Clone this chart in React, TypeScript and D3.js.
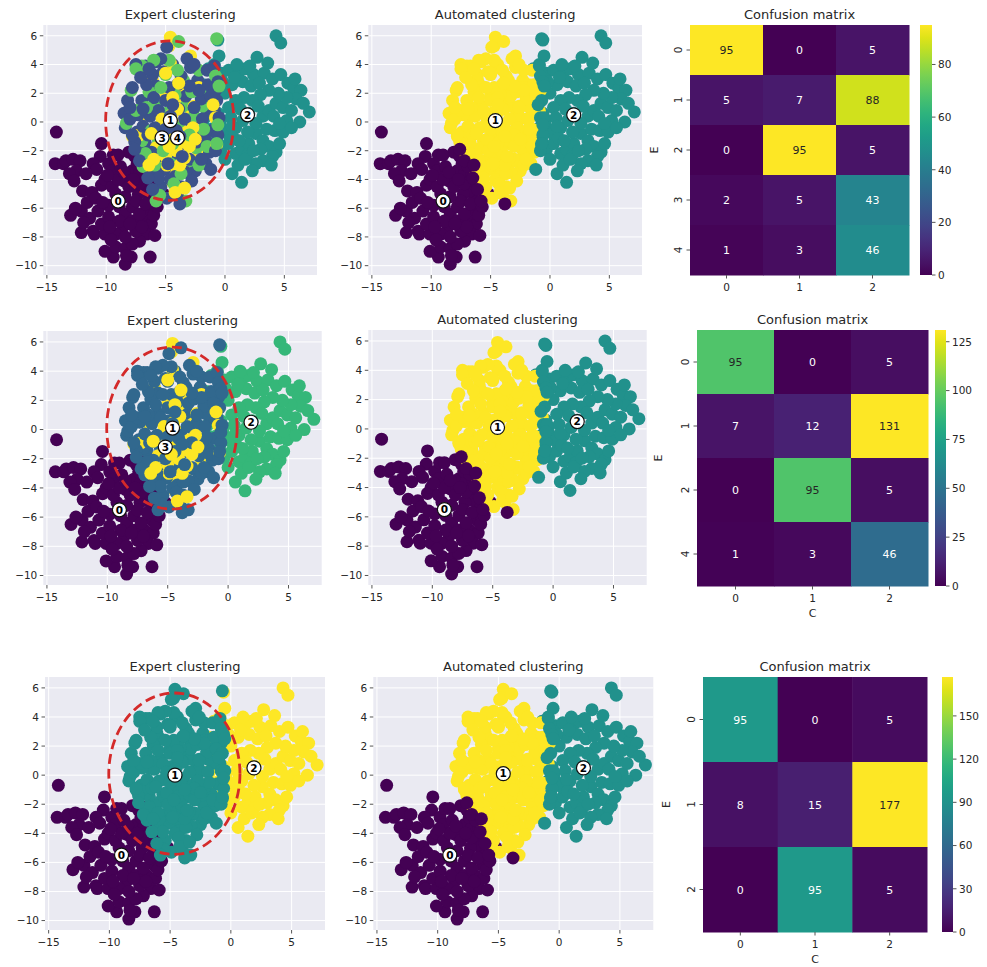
import React from 'react';
import * as d3 from 'd3';

// [x, y, automatedCluster]
type P = [number, number, number];

// Expert group 0 (lower-left)
const expert0: P[] = [
[-14.2,-0.7,0],[-14.3,-2.9,0],[-13.6,-2.9,0],[-13.4,-2.7,0],[-12.8,-2.6,0],[-12.2,-2.7,0],[-12.5,-3.4,0],[-13.1,-3.6,0],[-12.7,-4.1,0],[-12.0,-4.8,0],
[-11.2,-4.9,0],[-10.4,-4.4,0],[-10.1,-4.0,0],[-13.0,-6.5,0],[-12.1,-6.2,0],[-11.4,-6.7,0],[-12.1,-7.7,0],[-11.1,-7.6,0],[-10.4,-1.5,0],[-10.5,-2.4,0],
[-11.1,-2.9,0],[-9.8,-2.9,0],[-9.4,-2.3,0],[-9.5,-3.4,0],[-8.8,-3.1,0],[-8.5,-4.1,0],[-8.1,-2.1,0],[-7.6,-2.4,0],[-7.8,-3.4,0],[-7.2,-3.6,0],
[-6.8,-4.2,0],[-6.1,-4.4,0],[-5.5,-4.8,0],[-5.2,-5.0,0],[-6.6,-4.9,0],[-7.3,-5.0,0],[-6.1,-5.5,0],[-6.3,-6.2,0],[-6.9,-6.9,0],[-6.2,-7.1,0],
[-6.6,-7.8,0],[-7.2,-8.3,0],[-5.9,-7.9,0],[-6.3,-9.4,0],[-7.9,-9.4,0],[-8.4,-9.9,0],[-9.4,-9.4,0],[-10.1,-9.0,0],[-9.2,-8.7,0],[-8.4,-8.8,0],
[-7.8,-8.5,0],[-11.0,-7.8,0],[-10.1,-7.8,0],[-10.4,-7.1,0],[-9.8,-6.6,0],[-10.7,-6.2,0],[-9.8,-5.8,0],[-8.9,-5.9,0],[-8.4,-6.4,0],[-7.8,-5.9,0],
[-7.5,-5.5,0],[-8.4,-5.2,0],[-9.2,-5.0,0],[-9.5,-4.5,0],[-8.1,-4.5,0],[-7.2,-4.3,0],[-7.8,-6.9,0],[-8.6,-7.3,0],[-9.2,-7.8,0],[-8.4,-8.0,0],
[-7.5,-7.6,0],[-11.6,-5.6,0],[-10.9,-5.3,0],[-9.0,-4.0,0],[-9.9,-3.7,0],[-10.8,-3.3,0],[-11.7,-3.6,0],[-8.9,-6.9,0],[-7.2,-6.4,0],[-6.7,-5.7,0],
[-7.0,-7.3,0],[-9.6,-8.2,0],[-8.0,-7.1,0],[-10.3,-5.6,0],[-11.9,-7.0,0],[-12.6,-6.0,0],[-9.0,-2.3,0],[-8.5,-3.5,0],[-7.4,-2.9,0],[-6.6,-3.6,0],
[-8.3,-9.3,0],[-9.7,-7.3,0],[-7.7,-4.0,0],[-6.0,-6.5,0],[-5.7,-5.9,0],
[-7.1,-2.2,2],[-6.7,-2.8,2],[-6.3,-3.3,2],[-5.9,-3.9,2],[-5.6,-4.4,2]
];

// Expert group 1 (centre, widest)
const expert1: P[] = [
[-5.8,4.2,2],[-6.7,3.9,2],[-7.5,4.0,2],[-8.2,1.5,2],[-8.5,0.6,2],[-8.4,-0.4,2],[-7.4,-0.7,2],[-4.4,4.0,2],[-3.7,3.2,2],[-2.3,2.9,2],
[-1.5,3.6,2],[-0.8,2.2,2],[-0.9,0.8,2],[-1.5,0.8,2],[-1.1,-0.6,2],[-1.6,-1.3,2],[-2.2,-2.0,2],[-1.6,-2.9,2],[-2.5,-3.4,2],[-3.7,-4.5,2],
[-5.4,-4.5,2],[-4.9,-5.3,2],[-5.8,-2.7,2],[-6.7,-1.5,2],[-6.3,0.4,2],[-7.0,1.5,2],[-5.8,2.5,2],[-5.0,1.5,2],[-3.3,1.8,2],[-2.8,-0.1,2],
[-3.5,-1.5,2],[-4.4,-2.2,2],[-6.1,3.3,2],[-5.2,3.5,2],[-4.0,2.6,2],[-2.9,3.8,2],[-2.0,1.6,2],[-7.8,2.4,2],[-7.3,0.5,2],[-6.9,-0.3,2],
[-7.6,-1.4,2],[-6.2,-2.1,2],[-5.1,-3.3,2],[-4.2,-3.8,2],[-3.0,-2.6,2],[-2.1,-0.8,2],[-1.9,0.2,2],[-2.6,1.0,2],[-3.9,0.9,2],[-5.6,0.8,2],
[-6.0,1.7,2],[-4.7,2.4,2],[-3.2,4.4,2],[-4.9,5.2,2],[-1.4,2.6,2],[-2.4,-1.4,2],[-3.3,-3.5,2],[-4.6,-4.0,2],[-6.0,-3.6,2],[-7.0,-2.3,2],
[-8.0,0.2,2],[-7.8,-0.9,2],[-6.6,2.6,2],[-5.3,-1.2,2],[-4.1,-0.6,2],[-3.4,0.2,2],[-2.2,2.2,2],[-1.2,1.8,2],[-1.3,-2.1,2],[-2.8,-4.1,2],
[-4.0,-5.0,2],[-5.6,-3.9,2],[-6.5,-0.9,2],[-7.1,3.1,2],[-4.4,1.2,2],[-3.0,2.5,2],[-5.9,-0.4,2],[-4.8,-2.9,2],[-3.6,-2.4,2],[-2.6,4.0,2],
[-6.9,0.9,2],[-5.4,4.4,2],[-8.0,1.0,2],[-3.8,-1.0,2],[-4.6,0.4,2],[-2.0,-2.6,2],[-5.0,-0.5,2],[-6.4,3.7,2],
[-3.8,-5.7,0],[-7.6,-1.9,0],[-7.2,-2.7,0],[-6.5,-3.9,0],[-6.1,-4.7,0],
[-0.9,3.9,1],[-0.6,2.8,1],[-0.7,1.5,1],[-0.5,0.3,1],[-0.6,-0.9,1],[-0.8,-2.0,1],[-1.2,-3.3,1]
];

// Expert group 2 (right)
const expert2: P[] = [
[-0.6,5.7,1],[4.3,6.0,1],[4.7,5.5,1],[2.7,4.5,1],[-1.4,3.7,1],[-0.9,4.0,1],[-0.3,3.4,1],[0.3,3.6,1],[1.2,3.5,1],[1.7,3.7,1],
[2.4,3.3,1],[3.3,3.4,1],[4.0,3.0,1],[4.7,3.3,1],[5.3,2.7,1],[5.8,2.3,1],[6.4,2.2,1],[6.0,1.6,1],[7.1,0.7,1],[6.3,0.0,1],
[-1.2,2.3,1],[-1.0,1.5,1],[-0.6,0.6,1],[-0.9,-0.4,1],[-0.7,-1.3,1],[-0.3,-1.9,1],[0.3,-1.5,1],[0.9,-2.2,1],[1.4,-1.9,1],[2.0,-1.5,1],
[2.6,-0.8,1],[3.2,-1.3,1],[3.7,-1.7,1],[4.3,-2.1,1],[4.6,-1.5,1],[4.0,-2.4,1],[3.2,-2.7,1],[2.6,-2.9,1],[1.9,-2.3,1],[0.6,-3.6,1],
[1.4,-4.2,1],[0.9,-0.4,1],[1.5,0.1,1],[2.0,0.6,1],[3.2,0.4,1],[3.7,0.8,1],[4.3,1.3,1],[4.9,1.0,1],[5.2,1.7,1],[4.5,2.0,1],
[3.7,2.2,1],[3.0,1.9,1],[2.3,1.5,1],[1.6,1.7,1],[0.9,1.5,1],[0.3,1.0,1],[0.0,2.0,1],[0.6,2.6,1],[1.5,2.8,1],[2.2,2.5,1],
[2.9,2.7,1],[-0.3,-0.4,1],[0.2,-0.8,1],[0.7,-1.1,1],[2.6,-0.1,1],[3.5,-0.5,1],[4.2,-0.6,1],[4.9,-0.7,1],[5.2,0.1,1],[5.6,-0.4,1],
[1.9,-0.7,1],[1.2,-1.3,1],[-0.2,2.8,1],[1.0,4.0,1],[3.6,4.1,1],[2.1,3.9,1],[5.9,3.0,1],[6.6,1.3,1],[5.6,0.8,1],[3.9,-3.0,1],
[2.3,-3.4,1],[1.1,-3.0,1],[0.0,-2.6,1],[-0.4,0.1,1],[0.5,0.3,1],[1.3,0.9,1],[2.8,1.1,1],[4.1,0.4,1],[3.0,-1.9,1],[1.7,-2.6,1],
[-0.5,4.6,1],[0.8,3.1,1],[4.6,-0.1,1],[2.4,-2.0,1],[0.6,-0.3,1],
[-1.6,1.2,2],[-1.5,-0.5,2],[-1.8,2.6,2],[-1.3,-1.8,2],[-1.7,0.3,2]
];

// Expert group 3 (centre, medium spread)
const expert3: P[] = [
[-7.0,3.9,2],[-7.5,3.7,2],[-3.9,5.6,2],[-3.5,2.9,2],[-2.2,3.6,2],[-8.3,-0.1,2],[-7.9,2.2,2],[-5.8,1.1,2],[-4.9,0.6,2],[-3.3,1.1,2],
[-1.9,1.1,2],[-1.6,1.8,2],[-5.6,-1.3,2],[-7.0,-1.3,2],[-3.9,-2.5,2],[-3.0,-2.7,2],[-4.6,-2.9,2],[-3.3,-5.5,2],[-5.5,-5.1,2],[-6.4,2.1,2],
[-5.0,3.3,2],[-4.2,1.9,2],[-2.6,0.4,2],[-3.9,-0.4,2],[-6.2,-0.6,2],[-5.2,-2.0,2],[-2.4,-1.8,2],[-1.8,-0.5,2],[-4.7,4.3,2],[-6.6,1.0,2],
[-2.8,2.1,2],[-4.4,-1.5,2],[-5.9,-3.0,2],[-3.7,-3.6,2],[-2.2,-3.0,2],[-7.5,0.8,2],[-6.7,-2.2,2],[-4.0,3.6,2],[-5.4,2.4,2],[-3.0,-0.9,2],
[-4.3,-4.3,2],[-1.5,-1.7,2],[-6.0,4.3,2],
[-6.9,-3.1,0],[-5.8,-5.5,0],
[-0.7,5.8,1],[-0.8,3.2,1],[-0.5,2.5,1],[-0.6,-0.2,1],[-0.7,-1.5,1]
];

// Expert group 4 (centre, tight)
const expert4: P[] = [
[-4.6,5.9,2],[-4.7,5.3,2],[-2.9,4.6,2],[-4.6,4.1,2],[-6.1,2.9,2],[-2.2,2.4,2],[-3.3,2.2,2],[-5.0,1.8,2],[-3.7,1.5,2],[-2.6,1.1,2],
[-6.7,0.5,2],[-2.9,0.4,2],[-7.8,-1.0,2],[-7.2,-0.9,2],[-5.8,-1.8,2],[-5.0,-2.4,2],[-2.2,-2.2,2],[-5.6,-3.2,2],[-4.2,-3.6,2],[-3.5,-3.4,2],
[-4.4,-4.2,2],[-4.3,-1.0,2],[-3.9,-0.2,2],[-4.8,-0.6,2],[-3.6,-1.4,2],[-4.1,-2.0,2],[-5.2,-1.2,2],[-3.2,-0.7,2],[-4.5,0.5,2],[-5.3,0.2,2],
[-3.4,-2.5,2],[-4.9,-3.0,2],[-4.0,0.9,2],[-3.0,-1.7,2],[-5.5,-0.3,2],[-4.4,1.7,2],[-3.8,-3.0,2],[-4.7,-1.7,2],[-2.7,-0.4,2],[-6.2,-0.8,2],
[-3.9,2.7,2],[-5.0,3.4,2],[-4.2,-4.9,2],[-3.4,-4.6,2],[-2.5,-1.2,2],[-6.0,-2.6,2],
[-6.4,-3.0,0],
[-0.8,0.3,1],[-0.7,-1.6,1],[-1.0,1.2,1]
];

// expert label -> displayed label per row
const row1Map = [0, 1, 2, 3, 4];
const row2Map = [0, 1, 2, 1, 3];
const row3Map = [0, 1, 2, 1, 1];

type C = { label: string; x: number; y: number };
const expertCenters1: C[] = [
  { label: '0', x: -9.0, y: -5.5 }, { label: '1', x: -4.6, y: 0.1 }, { label: '2', x: 1.9, y: 0.5 },
  { label: '3', x: -5.3, y: -1.1 }, { label: '4', x: -4.0, y: -1.1 },
];
const expertCenters2: C[] = [
  { label: '0', x: -9.0, y: -5.5 }, { label: '1', x: -4.6, y: 0.1 }, { label: '2', x: 1.9, y: 0.5 },
  { label: '3', x: -5.2, y: -1.2 },
];
const expertCenters3: C[] = [
  { label: '0', x: -9.0, y: -5.5 }, { label: '1', x: -4.6, y: 0.0 }, { label: '2', x: 1.9, y: 0.5 },
];
const autoCenters: C[] = [
  { label: '0', x: -9.0, y: -5.5 }, { label: '1', x: -4.6, y: 0.1 }, { label: '2', x: 2.0, y: 0.5 },
];

const xTicks = [-15, -10, -5, 0, 5];
const yTicks = [-10, -8, -6, -4, -2, 0, 2, 4, 6];

const conf1 = [[95, 0, 5], [5, 7, 88], [0, 95, 5], [2, 5, 43], [1, 3, 46]];
const conf1Rows = ['0', '1', '2', '3', '4'];
const conf2 = [[95, 0, 5], [7, 12, 131], [0, 95, 5], [1, 3, 46]];
const conf2Rows = ['0', '1', '2', '4'];
const conf3 = [[95, 0, 5], [8, 15, 177], [0, 95, 5]];
const conf3Rows = ['0', '1', '2'];
const confCols = ['0', '1', '2'];
const cbarTicks1 = [0, 20, 40, 60, 80];
const cbarTicks2 = [0, 25, 50, 75, 100, 125];
const cbarTicks3 = [0, 30, 60, 90, 120, 150];

const FONT = 'DejaVu Sans, sans-serif';
const TXT = '#262626';

// drawing order: group 0, group 2, then interleaved centre groups
function orderedPoints(): { p: P; e: number }[] {
  const out: { p: P; e: number }[] = [];
  expert0.forEach((p) => out.push({ p, e: 0 }));
  expert2.forEach((p) => out.push({ p, e: 2 }));
  for (let i = 0; i < expert1.length; i++) {
    out.push({ p: expert1[i], e: 1 });
    if (i % 2 === 1) {
      const j = (i - 1) / 2;
      if (expert3[j]) out.push({ p: expert3[j], e: 3 });
      if (expert4[j]) out.push({ p: expert4[j], e: 4 });
    }
  }
  return out;
}
const ALL = orderedPoints();

type Box = { left: number; right: number; top: number; bottom: number };

function Scatter({ box, title, colorOf, centers, ellipse, id }: {
  box: Box; title: string; colorOf: (d: { p: P; e: number }) => string; centers: C[]; ellipse: boolean; id: string;
}) {
  const x = d3.scaleLinear().domain([-15.3, 7.75]).range([box.left, box.right]);
  const y = d3.scaleLinear().domain([-10.65, 6.75]).range([box.bottom, box.top]);
  const ecx = -4.65, ecy = 0.1, erx = 5.4, ery = 5.55;
  return (
    <g>
      <defs>
        <clipPath id={id}>
          <rect x={box.left} y={box.top} width={box.right - box.left} height={box.bottom - box.top} />
        </clipPath>
      </defs>
      <rect x={box.left} y={box.top} width={box.right - box.left} height={box.bottom - box.top} fill="#eaeaf2" />
      {xTicks.map((t) => (
        <line key={'gx' + t} x1={x(t)} x2={x(t)} y1={box.top} y2={box.bottom} stroke="#fff" strokeWidth={1} />
      ))}
      {yTicks.map((t) => (
        <line key={'gy' + t} x1={box.left} x2={box.right} y1={y(t)} y2={y(t)} stroke="#fff" strokeWidth={1} />
      ))}
      <g clipPath={`url(#${id})`}>
        {ALL.map((d, i) => (
          <circle key={i} cx={x(d.p[0])} cy={y(d.p[1])} r={6.5} fill={colorOf(d)} />
        ))}
        {ellipse && (
          <ellipse cx={x(ecx)} cy={y(ecy)} rx={x(ecx + erx) - x(ecx)} ry={y(ecy) - y(ecy + ery)}
            fill="none" stroke="#d42a2a" strokeWidth={2.8} strokeDasharray="10,5" />
        )}
        {centers.map((c) => (
          <g key={c.label}>
            <circle cx={x(c.x)} cy={y(c.y)} r={7} fill="#fff" stroke="#111" strokeWidth={1.2} />
            <text x={x(c.x)} y={y(c.y) + 3.8} textAnchor="middle" fontFamily={FONT} fontWeight="bold" fontSize={10.5} fill="#000">{c.label}</text>
          </g>
        ))}
      </g>
      {xTicks.map((t) => (
        <g key={'tx' + t}>
          <line x1={x(t)} x2={x(t)} y1={box.bottom} y2={box.bottom + 3.5} stroke="#555" strokeWidth={1} />
          <text x={x(t)} y={box.bottom + 16} textAnchor="middle" fontFamily={FONT} fontSize={10.5} fill={TXT}>{t < 0 ? '\u2212' + Math.abs(t) : String(t)}</text>
        </g>
      ))}
      {yTicks.map((t) => (
        <g key={'ty' + t}>
          <line x1={box.left - 3.5} x2={box.left} y1={y(t)} y2={y(t)} stroke="#555" strokeWidth={1} />
          <text x={box.left - 6} y={y(t) + 3.8} textAnchor="end" fontFamily={FONT} fontSize={10.5} fill={TXT}>{t < 0 ? '\u2212' + Math.abs(t) : String(t)}</text>
        </g>
      ))}
      <text x={(box.left + box.right) / 2} y={box.top - 6} textAnchor="middle" fontFamily={FONT} fontSize={13} fill={TXT}>{title}</text>
    </g>
  );
}

function lum(c: string) {
  const rgb = d3.rgb(c);
  const f = (v: number) => { v /= 255; return v <= 0.03928 ? v / 12.92 : Math.pow((v + 0.055) / 1.055, 2.4); };
  return 0.2126 * f(rgb.r) + 0.7152 * f(rgb.g) + 0.0722 * f(rgb.b);
}

function Matrix({ box, data, rows, ticks, cbarX, cbarW, eX, showC, id }: {
  box: Box; data: number[][]; rows: string[]; ticks: number[]; cbarX: number; cbarW: number; eX: number; showC: boolean; id: string;
}) {
  const vmax = d3.max(data.flat()) as number;
  const xb = d3.scaleBand().domain(confCols).range([box.left, box.right]);
  const yb = d3.scaleBand().domain(rows).range([box.top, box.bottom]);
  const cs = d3.scaleLinear().domain([0, vmax]).range([box.bottom, box.top]);
  const stops = d3.range(0, 1.0001, 0.05);
  return (
    <g>
      <defs>
        <linearGradient id={id} x1="0" y1="1" x2="0" y2="0">
          {stops.map((s) => <stop key={s} offset={s} stopColor={d3.interpolateViridis(s)} />)}
        </linearGradient>
      </defs>
      {data.map((row, i) => row.map((v, j) => {
        const col = d3.interpolateViridis(v / vmax);
        const cx = (xb(confCols[j]) as number);
        const cy = (yb(rows[i]) as number);
        return (
          <g key={i + '-' + j}>
            <rect x={cx} y={cy} width={xb.bandwidth() + 0.5} height={yb.bandwidth() + 0.5} fill={col} />
            <text x={cx + xb.bandwidth() / 2} y={cy + yb.bandwidth() / 2 + 4} textAnchor="middle" fontFamily={FONT} fontSize={11}
              fill={lum(col) > 0.408 ? TXT : '#fff'}>{v}</text>
          </g>
        );
      }))}
      {confCols.map((c) => {
        const cx = (xb(c) as number) + xb.bandwidth() / 2;
        return (
          <g key={'mx' + c}>
            <line x1={cx} x2={cx} y1={box.bottom} y2={box.bottom + 3.5} stroke="#555" />
            <text x={cx} y={box.bottom + 16} textAnchor="middle" fontFamily={FONT} fontSize={10.5} fill={TXT}>{c}</text>
          </g>
        );
      })}
      {rows.map((r) => {
        const cy = (yb(r) as number) + yb.bandwidth() / 2;
        return (
          <g key={'my' + r}>
            <line x1={box.left - 3.5} x2={box.left} y1={cy} y2={cy} stroke="#555" />
            <text transform={`translate(${box.left - 8},${cy}) rotate(-90)`} textAnchor="middle" fontFamily={FONT} fontSize={10.5} fill={TXT}>{r}</text>
          </g>
        );
      })}
      <text transform={`translate(${eX},${(box.top + box.bottom) / 2}) rotate(-90)`} textAnchor="middle" fontFamily={FONT} fontSize={11} fill={TXT}>E</text>
      {showC && (
        <text x={(box.left + box.right) / 2} y={box.bottom + 31} textAnchor="middle" fontFamily={FONT} fontSize={11} fill={TXT}>C</text>
      )}
      <rect x={cbarX} y={box.top} width={cbarW} height={box.bottom - box.top} fill={`url(#${id})`} />
      {ticks.map((t) => (
        <g key={'ct' + t}>
          <line x1={cbarX + cbarW} x2={cbarX + cbarW + 3.5} y1={cs(t)} y2={cs(t)} stroke="#555" />
          <text x={cbarX + cbarW + 6} y={cs(t) + 3.8} fontFamily={FONT} fontSize={10.5} fill={TXT}>{t}</text>
        </g>
      ))}
      <text x={(box.left + box.right) / 2} y={box.top - 6} textAnchor="middle" fontFamily={FONT} fontSize={13} fill={TXT}>Confusion matrix</text>
    </g>
  );
}

const vir = (v: number, vmax: number) => d3.interpolateViridis(v / vmax);

export default function App() {
  return (
    <svg width={987} height={967} style={{ position: 'absolute', left: 0, top: 0, background: '#fff' }}>
      <rect x={0} y={0} width={987} height={967} fill="#fff" />
      {/* Row 1 */}
      <Scatter id="c11" box={{ left: 43.3, right: 317, top: 25, bottom: 275 }} title="Expert clustering"
        colorOf={(d) => vir(row1Map[d.e], 4)} centers={expertCenters1} ellipse={true} />
      <Scatter id="c12" box={{ left: 368.3, right: 642, top: 25, bottom: 275 }} title="Automated clustering"
        colorOf={(d) => vir(d.p[2], 2)} centers={autoCenters} ellipse={false} />
      <Matrix id="g1" box={{ left: 690, right: 909, top: 25, bottom: 275 }} data={conf1} rows={conf1Rows} ticks={cbarTicks1}
        cbarX={920} cbarW={12} eX={658} showC={false} />
      {/* Row 2 */}
      <Scatter id="c21" box={{ left: 43.3, right: 321.7, top: 331, bottom: 585 }} title="Expert clustering"
        colorOf={(d) => vir(row2Map[d.e], 3)} centers={expertCenters2} ellipse={true} />
      <Scatter id="c22" box={{ left: 368.3, right: 646.7, top: 330, bottom: 585 }} title="Automated clustering"
        colorOf={(d) => vir(d.p[2], 2)} centers={autoCenters} ellipse={false} />
      <Matrix id="g2" box={{ left: 697, right: 928, top: 330, bottom: 586 }} data={conf2} rows={conf2Rows} ticks={cbarTicks2}
        cbarX={935} cbarW={11} eX={662} showC={true} />
      {/* Row 3 */}
      <Scatter id="c31" box={{ left: 45, right: 325, top: 677, bottom: 930 }} title="Expert clustering"
        colorOf={(d) => vir(row3Map[d.e], 2)} centers={expertCenters3} ellipse={true} />
      <Scatter id="c32" box={{ left: 373.3, right: 653.3, top: 677, bottom: 930 }} title="Automated clustering"
        colorOf={(d) => vir(d.p[2], 2)} centers={autoCenters} ellipse={false} />
      <Matrix id="g3" box={{ left: 703, right: 927, top: 677, bottom: 932 }} data={conf3} rows={conf3Rows} ticks={cbarTicks3}
        cbarX={942} cbarW={11} eX={670} showC={true} />
    </svg>
  );
}
